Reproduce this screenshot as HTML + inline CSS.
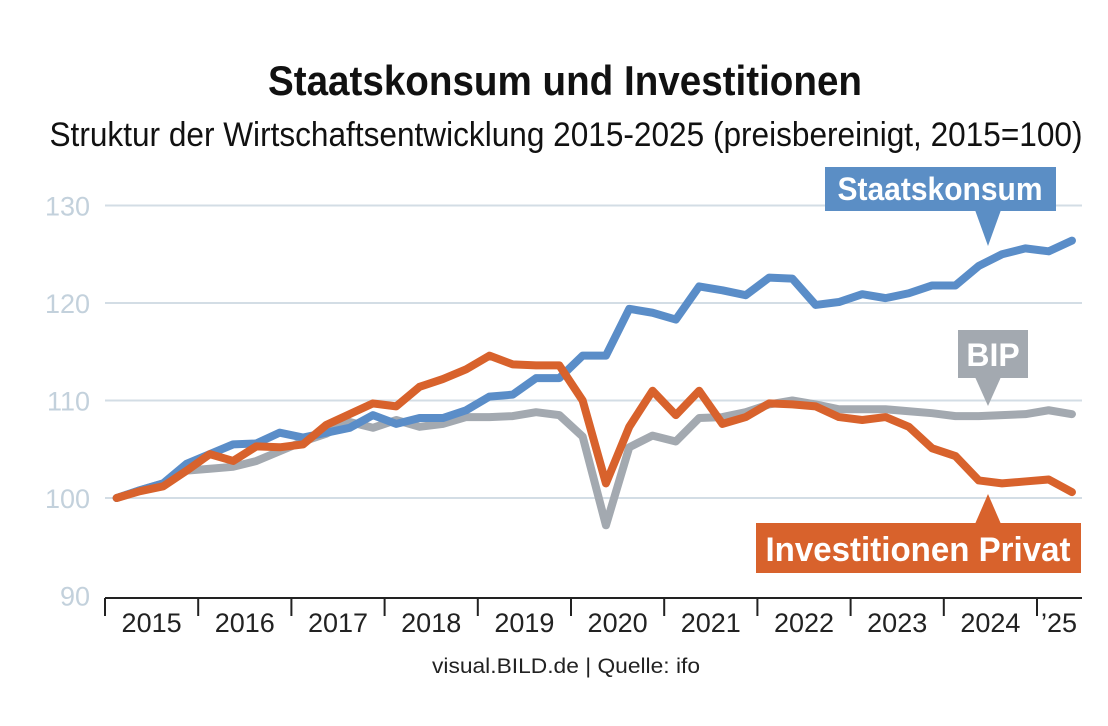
<!DOCTYPE html>
<html><head><meta charset="utf-8"><style>
html,body{margin:0;padding:0;background:#fff;}
svg{display:block;font-family:"Liberation Sans Narrow","Liberation Sans",sans-serif;}
</style></head><body>
<svg id="chart" width="1108" height="726" viewBox="0 0 1108 726">
<text x="565" y="95" text-anchor="middle" font-size="42" font-weight="bold" textLength="594" lengthAdjust="spacingAndGlyphs" fill="#111">Staatskonsum und Investitionen</text>
<text x="566" y="146" text-anchor="middle" font-size="34" textLength="1033" lengthAdjust="spacingAndGlyphs" fill="#111">Struktur der Wirtschaftsentwicklung 2015-2025 (preisbereinigt, 2015=100)</text>
<g id="grid"></g><g id="xaxis"></g><g id="lines"></g>
<g>
<rect x="825" y="167" width="231" height="44" fill="#5b8ec5"/>
<polygon points="975,210 1001,210 988,246" fill="#5b8ec5"/>
<text x="940" y="200" text-anchor="middle" font-size="32" font-weight="bold" fill="#fff" textLength="205" lengthAdjust="spacingAndGlyphs">Staatskonsum</text></g>
<g>
<rect x="958" y="330" width="70" height="48" fill="#a3a9b0"/>
<polygon points="975,377 1001,377 988,406" fill="#a3a9b0"/>
<text x="993" y="366" text-anchor="middle" font-size="32" font-weight="bold" fill="#fff">BIP</text></g>
<g>
<rect x="756" y="523" width="325" height="50" fill="#d8622c"/>
<polygon points="975,524 1001,524 988,494" fill="#d8622c"/>
<text x="918" y="561" text-anchor="middle" font-size="34" font-weight="bold" fill="#fff" textLength="305" lengthAdjust="spacingAndGlyphs">Investitionen Privat</text></g>
<text x="566" y="673" text-anchor="middle" font-size="21" fill="#222" font-family="Liberation Sans, sans-serif" textLength="268" lengthAdjust="spacingAndGlyphs">visual.BILD.de | Quelle: ifo</text>
</svg>
<script>
const yTicks=[90,100,110,120,130];
const yearLabels=["2015","2016","2017","2018","2019","2020","2021","2022","2023","2024","’25"];
const staatskonsum=[100,100.8,101.5,103.5,104.5,105.5,105.6,106.7,106.2,106.7,107.2,108.5,107.6,108.2,108.2,109.0,110.4,110.6,112.3,112.3,114.6,114.6,119.4,119.0,118.3,121.7,121.3,120.8,122.6,122.5,119.8,120.1,120.9,120.5,121.0,121.8,121.8,123.8,125.0,125.6,125.3,126.4];
const investitionen=[100,100.7,101.2,102.8,104.5,103.8,105.3,105.2,105.5,107.5,108.6,109.7,109.4,111.4,112.2,113.2,114.6,113.7,113.6,113.6,110.0,101.5,107.3,111.0,108.5,111.0,107.6,108.3,109.7,109.6,109.4,108.3,108.0,108.3,107.3,105.1,104.3,101.8,101.5,101.7,101.9,100.6];
const bip=[100,100.8,101.5,102.8,103.0,103.2,103.8,104.8,105.8,106.6,107.8,107.2,108.0,107.3,107.6,108.3,108.3,108.4,108.8,108.5,106.3,97.2,105.2,106.4,105.8,108.2,108.3,108.8,109.6,110.0,109.6,109.1,109.1,109.1,108.9,108.7,108.4,108.4,108.5,108.6,109.0,108.6];
const NS="http://www.w3.org/2000/svg";
const x0=105,yearW=93.2,qW=yearW/4;
const xq=i=>x0+qW*(i+0.5);
const y=v=>498-(v-100)*9.75;
function mk(tag,attrs,parent){const e=document.createElementNS(NS,tag);for(const k in attrs)e.setAttribute(k,attrs[k]);parent.appendChild(e);return e;}
const grid=document.getElementById('grid');
yTicks.forEach(t=>{
  if(t>90){const l=mk('line',{x1:105,x2:1082,y1:y(t),y2:y(t),stroke:'#d3dde5','stroke-width':2},grid);
  
  }
  const tx=mk('text',{x:90,y:y(t)+10,'text-anchor':'end','font-size':27,fill:'#c3d1dc'},grid);
  tx.textContent=t;
  
  
});
const xa=document.getElementById('xaxis');
const ax=mk('line',{x1:105,x2:1082,y1:598,y2:598,stroke:'#222','stroke-width':2},xa);


yearLabels.forEach((lab,i)=>{
  const xs=x0+i*yearW;
  const tk=mk('line',{x1:xs,x2:xs,y1:598,y2:616,stroke:'#222','stroke-width':2},xa);
  
  
  const cx=i<yearLabels.length-1?xs+yearW/2:xs+22;
  const tx=mk('text',{x:cx,y:632,'text-anchor':'middle','font-size':27,fill:'#222'},xa);
  tx.textContent=lab;
  
  
});
const lines=document.getElementById('lines');
[[bip,'#a3a9b0','line-bip'],[staatskonsum,'#5a8dc8','line-staatskonsum'],[investitionen,'#d8622c','line-investitionen']].forEach(([d,c,n])=>{
  const p=mk('polyline',{points:d.map((v,i)=>xq(i)+','+y(v)).join(' '),fill:'none',stroke:c,'stroke-width':8,'stroke-linejoin':'round','stroke-linecap':'round'},lines);
  
  
});
</script>
</body></html>
